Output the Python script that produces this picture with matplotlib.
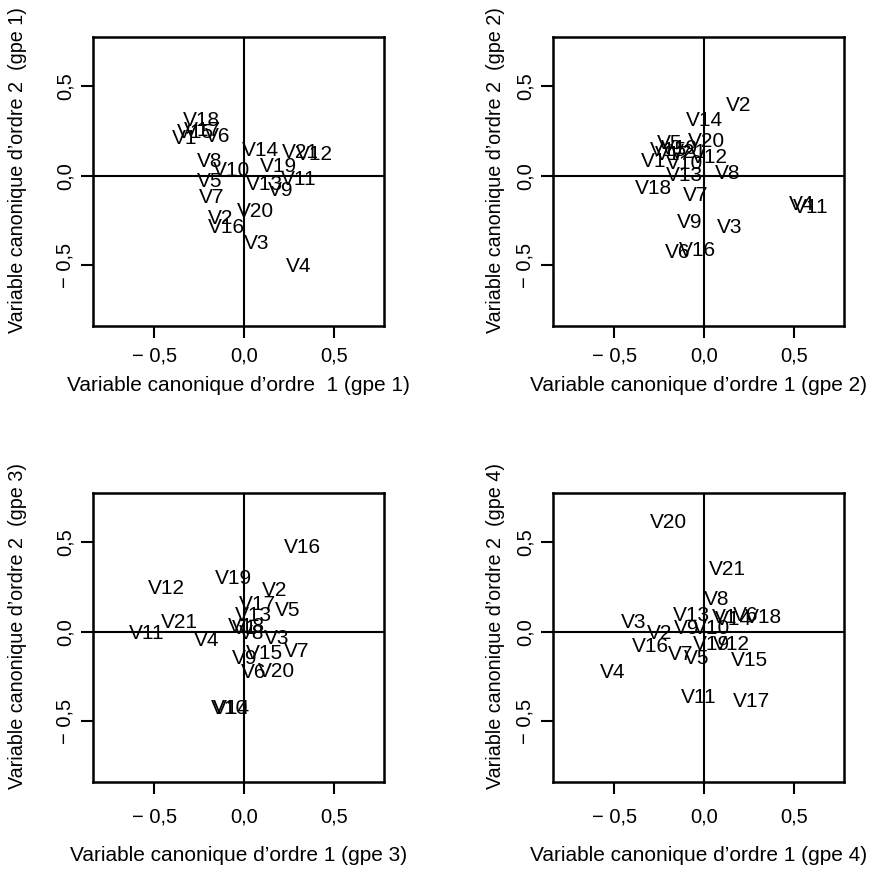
import matplotlib
matplotlib.use("Agg")
import matplotlib.pyplot as plt

plt.rcParams['font.family'] = ['Liberation Sans', 'DejaVu Sans']

labels = ["V%d" % i for i in range(1, 22)]

# group 1 coordinates (V1..V21)
g1_x = [-0.33, -0.13, 0.07, 0.30, -0.19, -0.15, -0.18, -0.19, 0.20, -0.07, 0.30,
        0.39, 0.11, 0.09, -0.27, -0.10, -0.23, -0.24, 0.19, 0.06, 0.31]
g1_y = [0.21, -0.24, -0.38, -0.51, -0.03, 0.22, -0.12, 0.08, -0.08, 0.03, -0.02,
        0.12, -0.05, 0.14, 0.24, -0.29, 0.25, 0.31, 0.05, -0.20, 0.13]

# group 2
g2_x = [-0.28, 0.19, 0.14, 0.54, -0.19, -0.15, -0.05, 0.13, -0.08, -0.11, 0.59,
        0.03, -0.11, 0.00, -0.20, -0.04, -0.17, -0.28, -0.14, 0.01, -0.09]
g2_y = [0.08, 0.39, -0.29, -0.16, 0.18, -0.43, -0.11, 0.01, -0.26, 0.07, -0.18,
        0.10, 0.00, 0.31, 0.14, -0.42, 0.12, -0.07, 0.15, 0.19, 0.13]

# group 3
g3_x = [0.00, 0.17, 0.18, -0.21, 0.24, 0.05, 0.29, 0.04, 0.00, -0.08, -0.54,
        -0.43, 0.05, -0.07, 0.11, 0.32, 0.07, 0.01, -0.06, 0.18, -0.36]
g3_y = [0.02, 0.23, -0.04, -0.05, 0.12, -0.23, -0.11, -0.01, -0.15, -0.43, -0.01,
        0.24, 0.09, -0.43, -0.12, 0.47, 0.15, 0.03, 0.30, -0.22, 0.05]

# group 4
g4_x = [0.11, -0.25, -0.39, -0.51, -0.04, 0.23, -0.13, 0.07, -0.10, 0.04, -0.03,
        0.15, -0.07, 0.16, 0.25, -0.30, 0.26, 0.33, 0.04, -0.20, 0.13]
g4_y = [0.08, -0.01, 0.05, -0.23, -0.15, 0.09, -0.13, 0.18, 0.02, 0.02, -0.37,
        -0.07, 0.09, 0.07, -0.16, -0.08, -0.39, 0.08, -0.07, 0.61, 0.35]

groups = [(g1_x, g1_y), (g2_x, g2_y), (g3_x, g3_y), (g4_x, g4_y)]
xlabels = ["Variable canonique d\u2019ordre  1 (gpe 1)",
           "Variable canonique d\u2019ordre 1 (gpe 2)",
           "Variable canonique d\u2019ordre 1 (gpe 3)",
           "Variable canonique d\u2019ordre 1 (gpe 4)"]
ylabels = ["Variable canonique d\u2019ordre 2  (gpe 1)",
           "Variable canonique d\u2019ordre 2  (gpe 2)",
           "Variable canonique d\u2019ordre 2  (gpe 3)",
           "Variable canonique d\u2019ordre 2  (gpe 4)"]
ticks = [-0.5, 0.0, 0.5]
ticklabels = ["\u2212 0,5", "0,0", "0,5"]

W, H = 877, 886
fig = plt.figure(figsize=(W / 100, H / 100), dpi=100)

boxes = [(93, 37), (553, 37), (93, 493), (553, 493)]
bw, bh = 291, 289
xlab_y = [-0.207, -0.207, -0.256, -0.256]
ylab_x = [-0.258, -0.199, -0.258, -0.199]
xpad = [6.5, 6.5, 10, 10]

for i, ((gx, gy), (lx, ty)) in enumerate(zip(groups, boxes)):
    ax = fig.add_axes([lx / W, 1 - (ty + bh) / H, bw / W, bh / H])
    ax.set_xlim(-0.84, 0.775)
    ax.set_ylim(-0.84, 0.775)
    ax.axhline(0, color='black', lw=1.5)
    ax.axvline(0, color='black', lw=1.5)
    for lab, x, y in zip(labels, gx, gy):
        ax.text(x, y, lab, ha='center', va='center', fontsize=15, color='black')
    ax.set_xticks(ticks)
    ax.set_xticklabels(ticklabels, fontsize=14.5)
    ax.set_yticks(ticks)
    ax.set_yticklabels(ticklabels, fontsize=14.5, rotation=90, va='center')
    ax.tick_params(direction='out', length=8.5, width=1.5)
    ax.tick_params(axis='x', pad=xpad[i])
    ax.tick_params(axis='y', pad=5)
    for s in ax.spines.values():
        s.set_linewidth(1.8)
    ax.set_xlabel(xlabels[i], fontsize=15)
    ax.xaxis.label.set_va('center')
    ax.xaxis.set_label_coords(0.5, xlab_y[i])
    ax.set_ylabel(ylabels[i], fontsize=14.2)
    ax.yaxis.label.set_va('center')
    ax.yaxis.set_label_coords(ylab_x[i], 0.54)

fig.savefig("out.png", dpi=100)
